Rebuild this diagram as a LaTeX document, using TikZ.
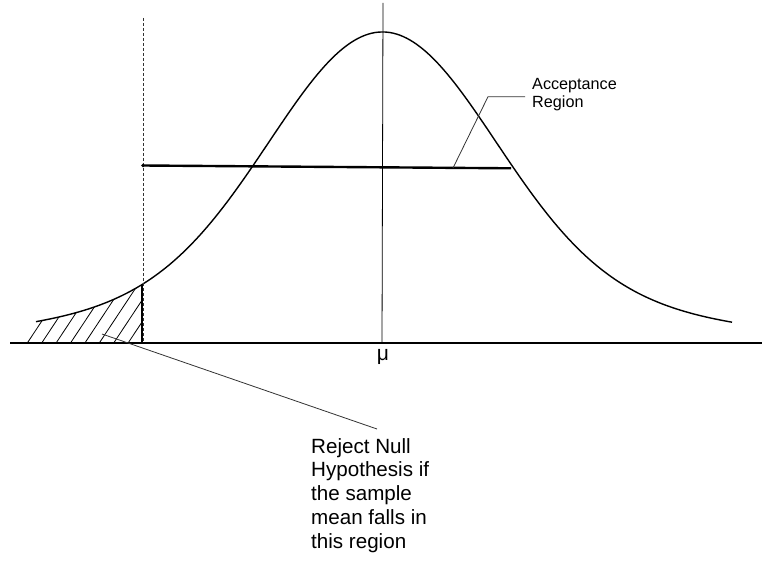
\documentclass[tikz,border=0pt]{standalone}
\usepackage{fontspec}
\setmainfont{Liberation Sans}
\begin{document}
\begin{tikzpicture}[x=1pt,y=-1pt,
  curve/.style={line width=1.4pt},
  axis/.style={line width=2pt},
  bar/.style={line width=2.4pt},
  thin/.style={line width=0.8pt},
  leader/.style={line width=0.8pt, black!80},
  hatch/.style={line width=0.8pt},
  lbl/.style={inner sep=0pt, anchor=north west, align=left},
  declare function={bell(\d)=343-311*(0.8*exp(-0.5*(\d/110)*(\d/110))+0.2*exp(-0.5*(\d/228)*(\d/228)));}]
\useasboundingbox (0,0) rectangle (762,561);
\fill[white] (0,0) rectangle (762,561);

% hatching of the rejection region
\begin{scope}
  \clip (20,343) -- plot[domain=-346.5:-240.5, samples=40] ({382.5+\x},{bell(\x)}) -- (142,343) -- cycle;
  \foreach \i in {0,...,8} \draw[hatch] (27.3+14.4*\i,343) -- ++(50,-75.5);
\end{scope}

% the curve
\draw[curve] plot[domain=-346.5:349.5, samples=200, smooth] ({382.5+\x},{bell(\x)});

% critical value lines
\coordinate (dtop) at (143,18);
\coordinate (dbot) at (143,343);
\draw[thin, black!80, dash pattern=on 3pt off 2pt] (dtop) -- (dbot);
\coordinate (ctop) at (142,{bell(-240.5)});
\coordinate (cbot) at (142,343);
\draw[line width=1.3pt] (ctop) -- (cbot);

% centre line
\coordinate (mtop) at (383,3);
\coordinate (mbot) at (382,343);
\draw[thin] (mtop) -- (mbot);

% baseline
\coordinate (bl) at (10,343);
\coordinate (br) at (762,343);
\draw[axis] (bl) -- (br);

% acceptance bar
\coordinate (al) at (143,165.5);
\coordinate (ar) at (511,168.3);
\draw[bar] (al) -- (ar);
\fill (al) circle (1.9pt);

% labels
\node[lbl, font=\fontsize{16.2}{18.4}\selectfont] (acc) at (532,78) {Acceptance\\Region};
\coordinate (a1) at (525,96.7);
\coordinate (a2) at (488,96.7);
\coordinate (a3) at (453,168);
\draw[leader] (a1) -- (a2) -- (a3);

\node[font=\fontsize{21}{22}\selectfont, inner sep=0pt] (mu) at (383,356.5) {μ};

\node[lbl, font=\fontsize{20.6}{23.8}\selectfont] (rej) at (311,438) {Reject Null\\Hypothesis if\\the sample\\mean falls in\\this region};
\coordinate (r1) at (102,334);
\coordinate (r2) at (377,429);
\draw[leader] (r1) -- (r2);
\end{tikzpicture}
\end{document}
